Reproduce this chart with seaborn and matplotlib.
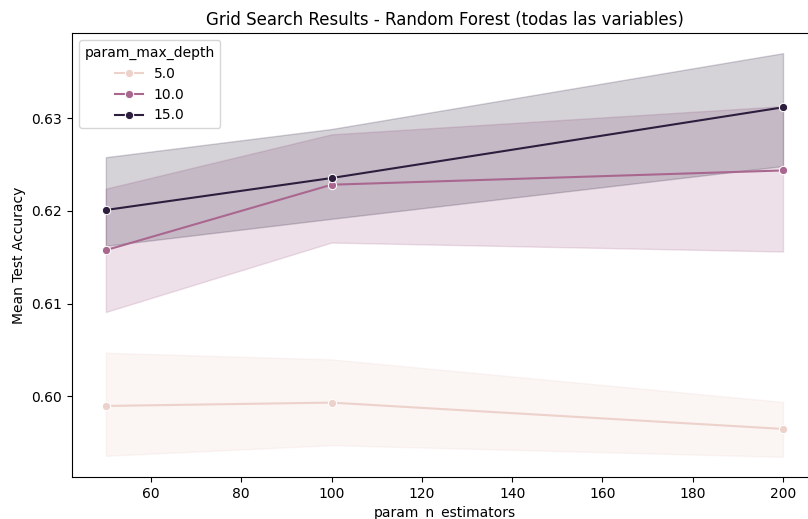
import matplotlib
matplotlib.use("Agg")
import matplotlib.pyplot as plt
import seaborn as sns
import pandas as pd

n_estimators = [50, 100, 200]
max_depths = [5.0, 10.0, 15.0]

mean_5 = [0.59896, 0.59932, 0.59648]
lo_5 = [0.59358, 0.59473, 0.59347]
hi_5 = [0.60470, 0.60398, 0.59939]

mean_10 = [0.61577, 0.62283, 0.62437]
lo_10 = [0.6091, 0.61659, 0.61562]
hi_10 = [0.6224, 0.62826, 0.6313]

mean_15 = [0.6201, 0.62355, 0.63118]
lo_15 = [0.61624, 0.61915, 0.62484]
hi_15 = [0.6258, 0.62884, 0.63702]

series = {
    5.0: (mean_5, lo_5, hi_5),
    10.0: (mean_10, lo_10, hi_10),
    15.0: (mean_15, lo_15, hi_15),
}

rows = []
for d in max_depths:
    m, lo, hi = series[d]
    for i, n in enumerate(n_estimators):
        for v in (lo[i], m[i], hi[i]):
            rows.append({"param_n_estimators": n, "param_max_depth": d, "mean_test_score": v})
df = pd.DataFrame(rows)

fig = plt.figure(figsize=(8.08, 5.19), dpi=100)
ax = fig.add_axes([0.0891, 0.0809, 1.011 - 0.0891, 0.9364 - 0.0809])
sns.lineplot(data=df, x="param_n_estimators", y="mean_test_score", hue="param_max_depth",
             marker="o", estimator="median", errorbar=("pi", 100), ax=ax)
ax.set_title("Grid Search Results - Random Forest (todas las variables)")
ax.set_xlabel("param_n_estimators")
ax.set_ylabel("Mean Test Accuracy")
ax.set_yticks([0.60, 0.61, 0.62, 0.63])
fig.savefig("out.png", dpi=100)
